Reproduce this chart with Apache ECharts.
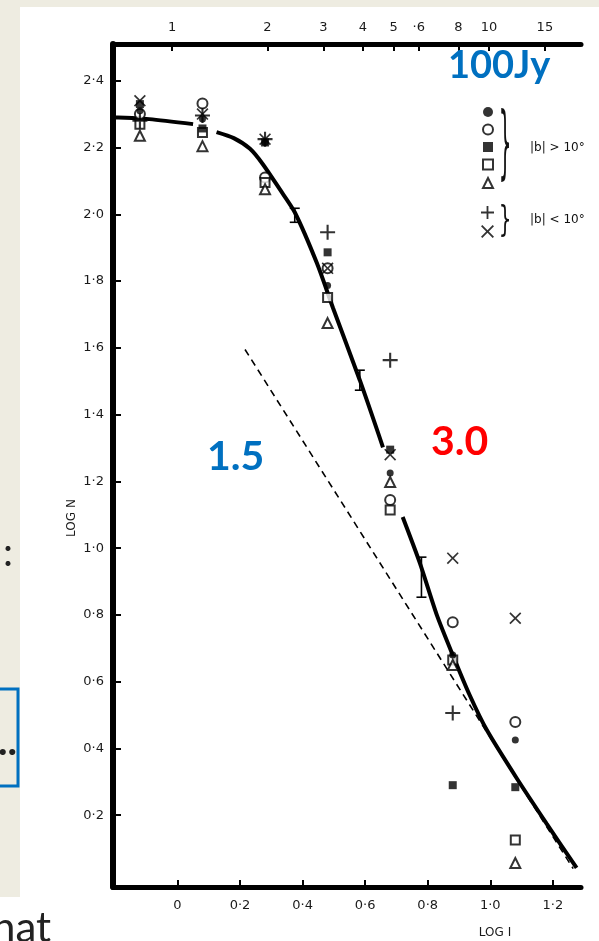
<!DOCTYPE html>
<html>
<head>
<meta charset="utf-8">
<script src="https://cdn.jsdelivr.net/npm/echarts@6.0.0/dist/echarts.min.js"></script>
<style>
html,body{margin:0;padding:0;background:#fff}
#chart{width:599px;height:941px}
</style>
</head>
<body>
<div id="chart"></div>
<script>
// columns of log I where the counts were taken
var logI = [-0.12, 0.08, 0.28, 0.48, 0.68, 0.88, 1.08];

// |b| > 10 deg samples
var dotVals    = [2.31, 2.285, 2.215, 1.787, 1.225, 0.68, 0.425];
var circleVals = [2.30, 2.332, 2.11, 1.838, 1.144, 0.778, 0.479];
var boxVals    = [2.33, 2.257, 2.215, 1.886, 1.295, 0.29, 0.284];
var oboxVals   = [2.27, 2.245, 2.095, 1.751, 1.114, 0.665, 0.126];
var triVals    = [2.235, 2.204, 2.075, 1.674, 1.198, 0.65, 0.057];
// |b| < 10 deg samples
var plusVals   = [2.28, 2.296, 2.225, 1.946, 1.563, 0.506, null];
var crossVals  = [2.34, 2.30, 2.225, 1.838, 1.28, 0.97, 0.79];

// drawn curve (null = break in the line)
var fitX = [-0.206, -0.19, -0.09, 0.05, null, 0.125, 0.18, 0.232, 0.273, 0.327, 0.375, 0.446, 0.497, 0.583, 0.657, null, 0.72, 0.775, 0.829, 0.88, 0.934, 0.989, 1.085, 1.18, 1.276];
var fitY = [2.29, 2.29, 2.285, 2.27, null, 2.246, 2.228, 2.196, 2.15, 2.075, 2.006, 1.853, 1.72, 1.503, 1.302, null, 1.093, 0.955, 0.80, 0.68, 0.56, 0.455, 0.31, 0.175, 0.042];

// slope 1.5 dashed line
var dashX = [0.216, 1.265];
var dashY = [1.595, 0.04];

// error bars on the curve
var errX    = [0.375, 0.583, 0.78];
var errLow  = [1.976, 1.473, 0.853];
var errHigh = [2.018, 1.533, 0.973];

// axis ticks
var yTicks = [0.2, 0.4, 0.6, 0.8, 1.0, 1.2, 1.4, 1.6, 1.8, 2.0, 2.2, 2.4];
var xTicks = [0, 0.2, 0.4, 0.6, 0.8, 1.0, 1.2];
var fluxTicks  = [1, 2, 3, 4, 5, 6, 8, 10, 15];
var fluxLabels = ['1', '2', '3', '4', '5', '·6', '8', '10', '15'];

var PLUS  = 'path://M4.3,0H5.7V4.3H10V5.7H5.7V10H4.3V5.7H0V4.3H4.3Z';
var CROSS = 'path://M1,0L5,4L9,0L10,1L6,5L10,9L9,10L5,6L1,10L0,9L4,5L0,1Z';

function pts( ys )
{
	var out = [];
	for( var i = 0; i < logI.length; i++ )
	{
		if( ys[i] != null ) out.push( [logI[i], ys[i]] );
	}
	return out;
}

function dot( v )
{
	var s = (Math.round( v * 10 ) / 10).toFixed( 1 );
	if( s == '0.0' ) return '0';
	return s.replace( '.', '·' );
}

var fitData = fitX.map( function( x, i ){ return x == null ? ['-', '-'] : [x, fitY[i]]; } );

var labFont = { color: '#1a1a1a', fontSize: 13, fontFamily: 'DejaVu Sans' };

var chart = echarts.init( document.getElementById( 'chart' ), null, { renderer: 'canvas' } );

chart.setOption({
	animation: false,
	backgroundColor: '#fff',
	grid: { left: 113, right: 18, top: 44, bottom: 54, outerBoundsMode: 'none' },
	legend: [
		{
			orient: 'vertical', left: 482, top: 107, padding: 0,
			itemWidth: 10, itemHeight: 10, itemGap: 6.5,
			selectedMode: false,
			data: ['dot', 'circle', 'box', 'obox', 'tri'],
			formatter: function(){ return ''; }
		},
		{
			orient: 'vertical', left: 481, top: 206, padding: 0,
			itemWidth: 13, itemHeight: 13, itemGap: 6,
			selectedMode: false,
			data: ['plus', 'cross'],
			formatter: function(){ return ''; }
		}
	],
	xAxis: [
		{
			type: 'value', min: -0.206, max: 1.29, position: 'bottom',
			axisLine: { onZero: false, lineStyle: { color: '#000', width: 5 } },
			axisTick: { inside: true, length: 7, lineStyle: { color: '#000', width: 2 }, customValues: xTicks },
			axisLabel: Object.assign( { margin: 12, customValues: xTicks, formatter: dot }, labFont ),
			splitLine: { show: false }
		},
		{
			type: 'log', min: 0.651, max: 19.5, position: 'top',
			axisLine: { onZero: false, lineStyle: { color: '#000', width: 5 } },
			axisTick: { inside: true, length: 7, lineStyle: { color: '#000', width: 2 }, customValues: fluxTicks },
			axisLabel: Object.assign( { margin: 10, customValues: fluxTicks, formatter: function( v ){
				var k = fluxTicks.indexOf( Math.round( v ) );
				return k < 0 ? '' : fluxLabels[k];
			} }, labFont ),
			splitLine: { show: false },
			minorTick: { show: false }
		}
	],
	yAxis: {
		type: 'value', min: -0.015, max: 2.51,
		axisLine: { show: true, onZero: false, lineStyle: { color: '#000', width: 6 } },
		axisTick: { show: true, inside: true, length: 8, lineStyle: { color: '#000', width: 2 }, customValues: yTicks },
		axisLabel: Object.assign( { margin: 9, customValues: yTicks, formatter: dot }, labFont ),
		splitLine: { show: false }
	},
	series: [
		{
			name: 'fit', type: 'line', data: fitData, symbol: 'none',
			smooth: 0.25, connectNulls: false, z: 2,
			lineStyle: { color: '#000', width: 4 }
		},
		{
			name: 'slope', type: 'line', symbol: 'none', z: 2,
			data: dashX.map( function( x, i ){ return [x, dashY[i]]; } ),
			lineStyle: { color: '#000', width: 1.6, type: [7, 5] }
		},
		{
			name: 'err', type: 'custom', z: 3,
			data: errX.map( function( x, i ){ return [x, errLow[i], errHigh[i]]; } ),
			encode: { x: 0, y: [1, 2] },
			renderItem: function( params, api ){
				var lo = api.coord( [api.value( 0 ), api.value( 1 )] );
				var hi = api.coord( [api.value( 0 ), api.value( 2 )] );
				var st = { stroke: '#000', lineWidth: 1.6 };
				return { type: 'group', children: [
					{ type: 'line', shape: { x1: lo[0], y1: lo[1], x2: hi[0], y2: hi[1] }, style: st },
					{ type: 'line', shape: { x1: lo[0] - 5, y1: lo[1], x2: lo[0] + 5, y2: lo[1] }, style: st },
					{ type: 'line', shape: { x1: hi[0] - 5, y1: hi[1], x2: hi[0] + 5, y2: hi[1] }, style: st }
				] };
			}
		},
		{ name: 'dot', type: 'scatter', data: pts( dotVals ), symbol: 'circle', symbolSize: 7, z: 5,
			itemStyle: { color: '#000' } },
		{ name: 'circle', type: 'scatter', data: pts( circleVals ), symbol: 'emptyCircle', symbolSize: 10, z: 4,
			itemStyle: { color: '#000', borderColor: '#000', borderWidth: 1.6 } },
		{ name: 'box', type: 'scatter', data: pts( boxVals ), symbol: 'rect', symbolSize: 8, z: 5,
			itemStyle: { color: '#000' } },
		{ name: 'obox', type: 'scatter', data: pts( oboxVals ), symbol: 'emptyRect', symbolSize: 9, z: 4,
			itemStyle: { color: '#000', borderColor: '#000', borderWidth: 1.6 } },
		{ name: 'tri', type: 'scatter', data: pts( triVals ), symbol: 'emptyTriangle', symbolSize: 10, z: 4,
			itemStyle: { color: '#000', borderColor: '#000', borderWidth: 1.6 } },
		{ name: 'plus', type: 'scatter', data: pts( plusVals ), symbol: PLUS, symbolSize: 15, z: 5,
			itemStyle: { color: '#000' } },
		{ name: 'cross', type: 'scatter', data: pts( crossVals ), symbol: CROSS, symbolSize: 12, z: 5,
			itemStyle: { color: '#000' } }
	],
	graphic: [
		// slide background behind the scanned figure
		{ type: 'rect', shape: { x: 0, y: 0, width: 20, height: 897 }, style: { fill: '#EEECE1' }, silent: true },
		{ type: 'rect', shape: { x: 0, y: 0, width: 599, height: 7 }, style: { fill: '#EEECE1' }, silent: true },
		{ type: 'rect', shape: { x: -10, y: 689, width: 28, height: 97 }, style: { fill: 'none', stroke: '#0070C0', lineWidth: 3 }, silent: true },
		{ type: 'text', x: 3, y: 553, style: { text: ':', font: '40px Lato', fill: '#222', textVerticalAlign: 'middle' }, silent: true },
		{ type: 'text', x: -2, y: 742, style: { text: '..', font: 'bold 40px Lato', fill: '#222', textVerticalAlign: 'middle' }, silent: true },
		{ type: 'text', x: -8, y: 949, style: { text: 'hat', font: '42px Lato', fill: '#222', textVerticalAlign: 'bottom' }, silent: true },
		// axis names
		{ type: 'text', x: 72, y: 518, rotation: Math.PI / 2, style: { text: 'LOG N', font: '12px DejaVu Sans', fill: '#1a1a1a', textAlign: 'center', textVerticalAlign: 'middle' }, silent: true },
		{ type: 'text', x: 495, y: 933, style: { text: 'LOG I', font: '12px DejaVu Sans', fill: '#1a1a1a', textAlign: 'center', textVerticalAlign: 'middle' }, silent: true },
		// legend braces and labels
		{ type: 'text', x: 505, y: 148, scaleY: 4.0, style: { text: '}', font: '20px DejaVu Sans', fill: '#111', textAlign: 'center', textVerticalAlign: 'middle' }, silent: true },
		{ type: 'text', x: 505, y: 222, scaleY: 1.75, style: { text: '}', font: '20px DejaVu Sans', fill: '#111', textAlign: 'center', textVerticalAlign: 'middle' }, silent: true },
		{ type: 'text', x: 530, y: 148, style: { text: '|b| > 10°', font: '12px DejaVu Sans', fill: '#111', textVerticalAlign: 'middle' }, silent: true },
		{ type: 'text', x: 530, y: 220, style: { text: '|b| < 10°', font: '12px DejaVu Sans', fill: '#111', textVerticalAlign: 'middle' }, silent: true },
		// slide annotations
		{ type: 'text', x: 448, y: 66, z: 10, style: { text: '100Jy', font: 'bold 38px Lato', fill: '#0070C0', textVerticalAlign: 'middle' }, silent: true },
		{ type: 'text', x: 431, y: 442, z: 10, style: { text: '3.0', font: 'bold 41px Lato', fill: '#FF0000', textVerticalAlign: 'middle' }, silent: true },
		{ type: 'text', x: 207, y: 457, z: 10, style: { text: '1.5', font: 'bold 41px Lato', fill: '#0070C0', textVerticalAlign: 'middle' }, silent: true }
	]
});
</script>
</body>
</html>
